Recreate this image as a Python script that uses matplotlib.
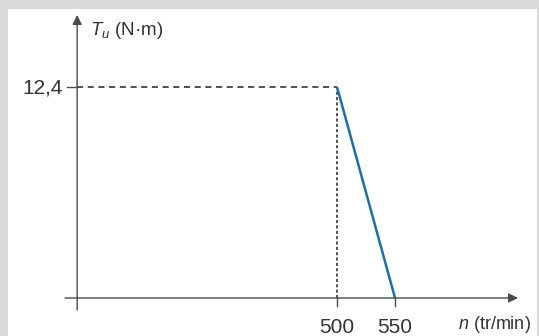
import matplotlib
matplotlib.use('Agg')
import matplotlib.pyplot as plt
from matplotlib.patches import Rectangle

plt.rcParams['font.family'] = ['Liberation Sans', 'DejaVu Sans']
plt.rcParams['mathtext.fontset'] = 'custom'
plt.rcParams['mathtext.it'] = 'Liberation Sans:italic'
plt.rcParams['mathtext.rm'] = 'Liberation Sans'

# data
n_vals = [500, 550]
T_vals = [12.4, 0]
x_ticks = [500, 550]
x_ticklabels = ['500', '550']
T_nom = 12.4
T_label = '12,4'

# the axis is not to scale: the origin sits at about n=276
n_origin = 276

fig = plt.figure(figsize=(5.39, 3.36), dpi=100)
fig.patch.set_facecolor('#d9d9d9')
fig.patches.append(Rectangle((8 / 539, 0), 529 / 539, 327 / 336,
                             transform=fig.transFigure, facecolor='white',
                             edgecolor='none', zorder=-5))

ax = fig.add_axes([0, 0, 1, 1])
ax.set_facecolor('none')
ax.set_xlim(209.5, 674.1)
ax.set_ylim(-2.233, 17.51)
ax.axis('off')

axis_col = '#4a4a4a'
txt_col = '#333333'

# axes with arrows
ax.annotate('', xy=(656, 0), xytext=(265.5, 0),
            arrowprops=dict(arrowstyle='-|>', color=axis_col, lw=1.0,
                            mutation_scale=14, shrinkA=0, shrinkB=0))
ax.annotate('', xy=(n_origin, 16.63), xytext=(n_origin, -0.705),
            arrowprops=dict(arrowstyle='-|>', color=axis_col, lw=1.0,
                            mutation_scale=14, shrinkA=0, shrinkB=0))

# dashed guides
ax.plot([n_origin, n_vals[0]], [T_nom, T_nom], color='#222222', lw=1.1,
        dashes=(4, 3))
ax.plot([n_vals[0], n_vals[0]], [0, T_nom], color='#222222', lw=1.1,
        dashes=(2, 1.5))

# characteristic
ax.plot(n_vals, T_vals, color='#1f6fa6', lw=1.8, solid_capstyle='butt')

# ticks
ax.plot([n_origin - 8.6, n_origin], [T_nom, T_nom], color=axis_col, lw=1.0)
for xt, lab in zip(x_ticks, x_ticklabels):
    ax.plot([xt, xt], [0, -0.47], color=axis_col, lw=1.0)
    ax.text(xt, -2.07, lab, ha='center', va='baseline', fontsize=15,
            color=txt_col)

ax.text(n_origin - 12.5, 11.99, T_label, ha='right', va='baseline',
        fontsize=15, color=txt_col)

ax.text(n_origin + 11, 15.46, r'$T_u$ (N·m)', ha='left', va='baseline',
        fontsize=13.5, color=txt_col)
ax.text(635.3, -1.82, r'$n$ (tr/min)', ha='center', va='baseline',
        fontsize=13, color=txt_col)

fig.savefig('out.png', dpi=100, facecolor=fig.get_facecolor())
